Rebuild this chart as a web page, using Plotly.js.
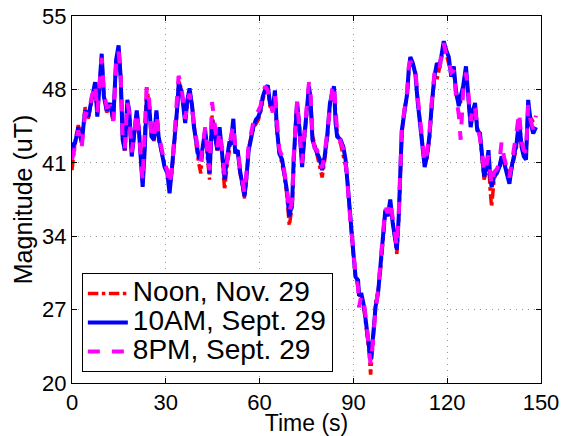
<!DOCTYPE html>
<html>
<head>
<meta charset="utf-8">
<script src="https://cdn.plot.ly/plotly-3.0.1.min.js"></script>
<style>html,body{margin:0;padding:0;background:#fff;}#chart{width:577px;height:436px;}</style>
</head>
<body>
<div id="chart"></div>
<script>
// Time (s)
const timeS = [0,0.5,1,2,3.1,4.2,5.2,6.3,7.4,8.1,9.5,10.2,11.1,12.2,13.2,14.1,14.9,15.6,16.2,16.9,17.7,18.3,19.1,19.8,20.7,21.4,22,22.6,23.3,23.9,24.7,25.4,26.2,27,27.7,28.6,29.6,30.5,31.2,32,32.8,33.7,34.1,35,35.6,36.2,36.9,37.6,38.4,39,39.8,40.5,41.2,41.9,42.6,43.3,44,44.8,45.6,46.5,47.2,48,48.8,49.5,50.3,50.8,51.6,52.2,53,53.7,54.6,55.2,55.9,56.5,57.2,58,58.8,59.6,60.3,61,61.8,62.6,63.3,64.2,64.9,65.5,66.3,67.2,67.9,68.7,69.5,70.4,70.9,71.6,72,72.7,73.6,74.3,75.1,75.8,76.3,76.9,77.6,78.4,79.3,80,80.8,81.6,82.5,83.2,83.8,84.3,84.8,85.9,86.8,87.5,88,88.6,89.1,89.6,90.2,90.7,91.5,91.8,92.5,93.4,94.2,95,95.5,96,96.6,97.1,97.9,98.5,99.2,99.8,100.2,101,101.8,102.6,103.2,103.9,104.5,105,105.5,106.4,107.2,107.7,108.2,109,109.8,110.6,111.4,112.1,112.8,113.5,114.3,115.1,115.9,116.7,117.5,118.1,118.9,119.6,120.5,121.3,122.1,122.8,123.7,124.3,125.1,126,126.7,127.5,128.3,128.9,129.6,130.5,131.1,131.8,132.4,133.2,133.7,134.2,135,135.9,136.7,137.4,138.2,139,139.9,140.6,141.4,142.2,143,143.8,144.5,145.2,145.9,146.7,147.5,148.4];

// Noon, Nov. 29
const noonNov29 = [40.3,41.5,43.0,44.6,43.2,46.3,45.2,46.8,48.4,45.6,51.0,47.5,45.8,46.5,44.9,50.5,51.8,49.0,43.5,42.0,46.7,45.8,41.9,43.3,45.7,44.3,41.2,39.2,44.0,48.2,46.6,43.7,43.0,45.8,43.2,42.1,40.9,40.3,38.6,40.4,43.0,46.2,48.8,48.1,46.7,45.0,46.5,47.8,46.6,44.7,42.5,41.0,40.0,42.6,44.0,41.5,39.4,45.5,44.1,42.0,44.2,41.8,38.4,40.5,42.5,43.1,44.8,42.3,42.0,40.1,38.6,37.6,39.7,42.4,43.4,44.3,44.7,45.1,45.8,47.0,47.8,48.1,46.4,46.2,47.5,44.1,42.1,41.0,39.8,38.0,35.0,36.8,41.0,45.4,46.5,44.7,40.9,43.2,46.1,48.0,47.3,43.6,42.8,41.6,40.4,39.6,41.2,43.2,46.4,47.8,48.0,45.2,43.8,42.8,41.8,40.7,39.6,36.9,35.1,33.4,31.5,30.0,29.4,28.6,27.8,27.0,25.0,23.0,20.8,22.5,25.2,27.6,28.8,30.2,33.2,34.7,36.2,36.1,37.2,35.5,33.7,32.3,35.6,40.0,43.8,46.3,47.4,49.6,50.8,50.3,49.8,47.0,44.6,42.3,40.9,41.3,43.2,46.4,49.0,48.9,50.0,50.8,52.3,51.5,50.7,49.5,49.9,47.5,46.7,46.8,48.0,49.8,47.3,44.8,46.3,46.4,44.4,43.5,41.6,39.4,40.0,41.5,38.5,36.8,39.4,40.3,40.3,41.3,41.4,40.3,39.4,40.3,41.6,42.5,44.8,42.8,41.9,41.7,46.2,45.3,44.9,44.6];

// 10AM, Sept. 29
const tenAmSept29 = [42.0,42.8,42.9,44.4,42.9,46.0,45.4,47.0,48.7,45.4,51.4,47.3,46.0,46.7,45.1,50.8,52.2,48.9,43.2,42.2,47.0,46.0,41.6,43.5,46.0,44.1,41.6,38.7,42.5,47.2,46.4,43.5,43.2,46.0,43.5,41.9,40.6,40.0,38.1,40.6,43.2,46.4,48.5,47.9,46.4,44.8,47.0,48.1,46.4,44.4,42.9,41.6,41.3,42.9,44.1,42.2,40.0,45.1,43.8,42.2,44.4,42.2,39.4,41.3,42.9,42.9,45.2,41.9,42.2,40.3,38.4,37.8,40.0,42.2,43.2,44.4,45.1,45.4,46.0,47.3,48.0,48.4,46.7,46.0,47.9,44.4,41.9,41.3,40.0,38.4,35.9,37.1,41.3,45.7,46.8,44.4,40.6,43.5,46.4,48.3,47.0,43.2,42.5,41.9,41.3,40.3,41.6,43.5,46.7,47.6,48.3,44.8,43.5,43.2,42.5,41.3,39.4,36.8,34.9,33.6,31.7,30.1,29.8,28.3,28.6,27.3,25.4,23.5,22.2,23.5,25.7,27.3,28.6,30.5,33.0,35.0,36.5,35.9,37.5,35.2,34.0,32.7,35.9,40.3,44.1,46.0,47.6,49.9,51.1,50.5,49.5,46.7,44.4,42.5,40.6,41.6,43.5,46.7,49.2,50.5,50.2,51.1,52.6,51.8,51.1,49.2,50.2,47.9,46.4,47.3,48.3,50.2,47.6,44.4,46.0,46.7,44.1,43.8,41.9,39.7,40.3,42.2,40.0,38.7,39.7,40.0,40.6,41.6,41.0,40.0,39.0,40.6,41.9,42.9,45.1,42.5,41.6,41.3,47.0,44.8,43.8,44.4];

// 8PM, Sept. 29
const eightPmSept29 = [41.3,42.2,42.6,44.1,42.5,45.7,45.6,47.3,48.5,45.8,51.0,47.8,46.3,46.4,45.0,50.4,51.6,49.2,43.6,42.4,46.8,45.7,42.0,43.7,45.8,44.0,41.4,39.3,44.5,48.3,46.9,43.4,43.3,45.6,43.8,42.3,41.0,40.2,38.9,40.5,43.5,47.0,49.3,48.3,46.5,45.2,46.6,47.6,46.1,44.9,43.1,41.8,41.2,42.7,44.4,42.0,40.3,46.8,44.5,42.5,44.0,42.4,39.8,40.9,42.7,43.4,44.6,42.5,42.1,40.7,38.9,38.1,40.4,42.8,43.7,44.9,45.5,45.9,46.4,47.7,48.3,47.9,47.1,45.8,47.4,44.8,42.3,41.6,40.2,38.6,36.3,37.4,41.6,46.0,46.9,44.3,41.0,43.8,46.6,48.7,47.5,43.8,42.4,42.2,41.1,40.5,41.8,43.9,47.0,48.0,48.5,45.4,43.9,43.0,42.3,41.0,39.8,37.0,35.0,33.8,31.9,30.3,29.1,27.2,28.3,27.6,25.6,23.3,21.8,23.2,25.4,27.0,28.9,30.7,33.4,35.3,36.7,36.2,37.3,35.7,34.2,33.0,36.2,40.6,44.4,46.2,47.9,50.1,50.7,50.2,49.9,47.2,44.9,42.8,41.0,41.9,43.8,47.0,49.5,50.1,49.8,51.3,52.4,51.4,50.8,49.6,49.8,47.4,45.6,43.2,47.8,49.6,47.9,45.0,46.5,46.2,44.6,43.3,42.2,40.1,40.6,41.7,40.3,38.9,40.1,40.4,41.0,43.0,41.5,40.4,39.6,40.9,42.2,44.0,45.8,43.0,42.2,42.0,46.5,45.0,44.2,45.5];

const seriesNames = ['Noon, Nov. 29', '10AM, Sept. 29', '8PM, Sept. 29'];
const xTicks = [0, 30, 60, 90, 120, 150];
const yTicks = [20, 27, 34, 41, 48, 55];

const FONT = 'Liberation Sans, Arial, Helvetica, sans-serif';
const big = s => '<span style="font-size:28px">' + s + '</span>';

const traces = [
  {x: timeS, y: noonNov29, name: big(seriesNames[0]), mode: 'lines', type: 'scatter',
   line: {color: '#ff0000', width: 3.5, dash: 'dashdot'}},
  {x: timeS, y: tenAmSept29, name: big(seriesNames[1]), mode: 'lines', type: 'scatter',
   line: {color: '#0000ff', width: 4, dash: 'solid'}},
  {x: timeS, y: eightPmSept29, name: big(seriesNames[2]), mode: 'lines', type: 'scatter',
   line: {color: '#ff00ff', width: 4, dash: 'dash'}}
];

const axisCommon = {
  showline: true, linecolor: '#000', linewidth: 1, mirror: 'ticks',
  ticks: 'inside', ticklen: 5, tickcolor: '#000', tickwidth: 1,
  showgrid: true, gridcolor: '#999999', griddash: '1px,5px', gridwidth: 1,
  zeroline: false, tickfont: {family: FONT, size: 22, color: '#000'}
};

const layout = {
  width: 577, height: 436,
  margin: {l: 72, r: 36, t: 16, b: 53},
  paper_bgcolor: '#fff', plot_bgcolor: '#fff',
  font: {family: FONT, color: '#000'},
  showlegend: true,
  xaxis: Object.assign({}, axisCommon, {
    range: [0, 150], tickvals: xTicks, ticktext: xTicks.map(String),
    title: {text: 'Time (s)', font: {family: FONT, size: 23, color: '#000'}, standoff: 0}
  }),
  yaxis: Object.assign({}, axisCommon, {
    range: [20, 55], tickvals: yTicks, ticktext: yTicks.map(String),
    title: {text: 'Magnitude (uT)', font: {family: FONT, size: 25, color: '#000'}, standoff: 2}
  }),
  legend: {
    x: 0.021, y: 0.30, xanchor: 'left', yanchor: 'top',
    bgcolor: '#fff', bordercolor: '#000', borderwidth: 1,
    font: {family: FONT, size: 20, color: '#000'},
    itemwidth: 40,
    tracegroupgap: 0
  }
};

Plotly.newPlot('chart', traces, layout, {displayModeBar: false, staticPlot: true});
</script>
</body>
</html>
